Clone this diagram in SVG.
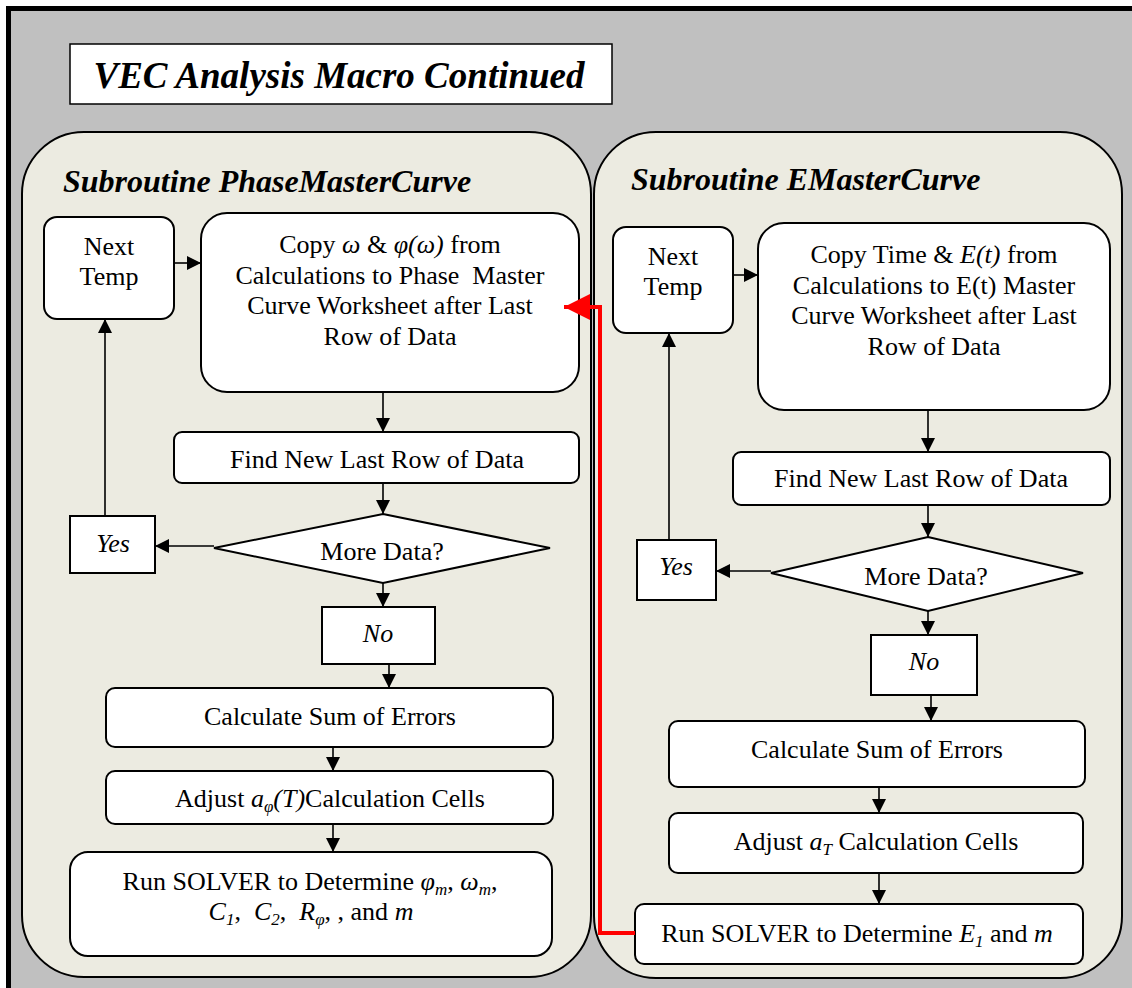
<svg xmlns="http://www.w3.org/2000/svg" width="1132" height="988" viewBox="0 0 1132 988">
  <defs>
    <marker id="ah" viewBox="0 0 14 14" refX="14" refY="7" markerWidth="14" markerHeight="14" markerUnits="userSpaceOnUse" orient="auto">
      <path d="M0,0 L14,7 L0,14 z" fill="#000"/>
    </marker>
    <marker id="ahRed" viewBox="0 0 26 26" refX="26" refY="13" markerWidth="26" markerHeight="26" markerUnits="userSpaceOnUse" orient="auto">
      <path d="M0,0 L26,13 L0,26 z" fill="#ff0000"/>
    </marker>
    <style>
      .panel { fill: #ecebe1; stroke: #000; stroke-width: 2; }
      .box { fill: #fff; stroke: #000; stroke-width: 2; }
      .t { font-family: "Liberation Serif", "Times New Roman", serif; font-size: 26px; fill: #000; text-anchor: middle; }
      .i { font-style: italic; }
      .sub { font-size: 17px; }
      .head { font-family: "Liberation Serif", "Times New Roman", serif; font-weight: bold; font-style: italic; fill: #000; }
      .conn { stroke: #000; stroke-width: 1.6; fill: none; }
      .red { stroke: #ff0000; stroke-width: 4; fill: none; }
    </style>
  </defs>

  <!-- page background and frame -->
  <rect x="0" y="0" width="1132" height="988" fill="#fff"/>
  <rect x="8.5" y="8.5" width="1140" height="1000" fill="#c0c0c0" stroke="#000" stroke-width="5"/>

  <!-- title -->
  <g id="title">
    <rect x="70" y="44" width="542" height="60" fill="#fff" stroke="#000" stroke-width="1.5"/>
    <text class="head" x="339" y="88" font-size="37" text-anchor="middle">VEC Analysis Macro Continued</text>
  </g>

  <!-- subroutine panels -->
  <g id="panel-phase">
    <rect class="panel" x="22" y="132" width="569" height="845" rx="62" ry="62"/>
    <text class="head" x="63" y="192" font-size="32">Subroutine PhaseMasterCurve</text>
  </g>
  <g id="panel-e">
    <rect class="panel" x="594" y="132" width="528" height="846" rx="62" ry="62"/>
    <text class="head" x="631" y="190" font-size="32">Subroutine EMasterCurve</text>
  </g>

  <!-- PhaseMasterCurve nodes -->
  <g id="p-next">
    <rect class="box" x="44" y="217" width="130" height="102" rx="13"/>
    <text class="t" x="109" y="255">Next</text>
    <text class="t" x="109" y="285">Temp</text>
  </g>
  <g id="p-copy">
    <rect class="box" x="201" y="213" width="378" height="179" rx="26"/>
    <text class="t" x="390" y="253">Copy <tspan class="i">ω</tspan> &amp; <tspan class="i">φ(ω)</tspan> from</text>
    <text class="t" x="390" y="283.5">Calculations to Phase&#160; Master</text>
    <text class="t" x="390" y="314">Curve Worksheet after Last</text>
    <text class="t" x="390" y="345">Row of Data</text>
  </g>
  <g id="p-find">
    <rect class="box" x="174" y="432" width="405" height="51" rx="8"/>
    <text class="t" x="377" y="468">Find New Last Row of Data</text>
  </g>
  <g id="p-more">
    <polygon class="box" points="383,514 550,548 383,583 214,548"/>
    <text class="t" x="382" y="560">More Data?</text>
  </g>
  <g id="p-yes">
    <rect class="box" x="70" y="516" width="85" height="57"/>
    <text class="t i" x="113" y="552">Yes</text>
  </g>
  <g id="p-no">
    <rect class="box" x="322" y="607" width="113" height="57"/>
    <text class="t i" x="378" y="642">No</text>
  </g>
  <g id="p-sum">
    <rect class="box" x="106" y="688" width="447" height="59" rx="9"/>
    <text class="t" x="330" y="725">Calculate Sum of Errors</text>
  </g>
  <g id="p-adjust">
    <rect class="box" x="106" y="771" width="447" height="53" rx="9"/>
    <text class="t" x="330" y="807">Adjust <tspan class="i">a</tspan><tspan class="sub i" dy="5">φ</tspan><tspan class="i" dy="-5">(T)</tspan>Calculation Cells</text>
  </g>
  <g id="p-solver">
    <rect class="box" x="70" y="852" width="482" height="104" rx="18"/>
    <text class="t" x="310" y="890">Run SOLVER to Determine <tspan class="i">φ</tspan><tspan class="sub i" dy="5">m</tspan><tspan dy="-5">, </tspan><tspan class="i">ω</tspan><tspan class="sub i" dy="5">m</tspan><tspan dy="-5">,</tspan></text>
    <text class="t" x="311" y="920"><tspan class="i">C</tspan><tspan class="sub i" dy="5">1</tspan><tspan dy="-5">,&#160; </tspan><tspan class="i">C</tspan><tspan class="sub i" dy="5">2</tspan><tspan dy="-5">,&#160; </tspan><tspan class="i">R</tspan><tspan class="sub i" dy="5">φ</tspan><tspan dy="-5">, , and </tspan><tspan class="i">m</tspan></text>
  </g>

  <!-- EMasterCurve nodes -->
  <g id="e-next">
    <rect class="box" x="613" y="227" width="120" height="106" rx="13"/>
    <text class="t" x="673" y="265">Next</text>
    <text class="t" x="673" y="295">Temp</text>
  </g>
  <g id="e-copy">
    <rect class="box" x="758" y="223" width="352" height="187" rx="26"/>
    <text class="t" x="934" y="263">Copy Time &amp; <tspan class="i">E(t)</tspan> from</text>
    <text class="t" x="934" y="293.5">Calculations to E(t) Master</text>
    <text class="t" x="934" y="324">Curve Worksheet after Last</text>
    <text class="t" x="934" y="355">Row of Data</text>
  </g>
  <g id="e-find">
    <rect class="box" x="733" y="452" width="377" height="53" rx="8"/>
    <text class="t" x="921" y="487">Find New Last Row of Data</text>
  </g>
  <g id="e-more">
    <polygon class="box" points="928,537 1083,573 928,611 771,573"/>
    <text class="t" x="926" y="585">More Data?</text>
  </g>
  <g id="e-yes">
    <rect class="box" x="637" y="540" width="79" height="60"/>
    <text class="t i" x="676" y="575">Yes</text>
  </g>
  <g id="e-no">
    <rect class="box" x="871" y="635" width="106" height="60"/>
    <text class="t i" x="924" y="670">No</text>
  </g>
  <g id="e-sum">
    <rect class="box" x="669" y="721" width="416" height="66" rx="9"/>
    <text class="t" x="877" y="758">Calculate Sum of Errors</text>
  </g>
  <g id="e-adjust">
    <rect class="box" x="669" y="813" width="414" height="60" rx="9"/>
    <text class="t" x="876" y="850">Adjust <tspan class="i">a</tspan><tspan class="sub i" dy="5">T</tspan><tspan dy="-5"> Calculation Cells</tspan></text>
  </g>
  <g id="e-solver">
    <rect class="box" x="635" y="904" width="448" height="60" rx="9"/>
    <text class="t" x="857" y="942">Run SOLVER to Determine <tspan class="i">E</tspan><tspan class="sub i" dy="5">1</tspan><tspan dy="-5"> and </tspan><tspan class="i">m</tspan></text>
  </g>

  <!-- connectors -->
  <g id="connectors">
    <!-- PhaseMasterCurve flow -->
    <line class="conn" x1="174" y1="263" x2="201" y2="263" marker-end="url(#ah)"/>
    <line class="conn" x1="383" y1="392" x2="383" y2="432" marker-end="url(#ah)"/>
    <line class="conn" x1="383" y1="483" x2="383" y2="514" marker-end="url(#ah)"/>
    <line class="conn" x1="214" y1="546" x2="155" y2="546" marker-end="url(#ah)"/>
    <line class="conn" x1="105" y1="516" x2="105" y2="319" marker-end="url(#ah)"/>
    <line class="conn" x1="383" y1="583" x2="383" y2="607" marker-end="url(#ah)"/>
    <line class="conn" x1="389" y1="664" x2="389" y2="688" marker-end="url(#ah)"/>
    <line class="conn" x1="333" y1="747" x2="333" y2="771" marker-end="url(#ah)"/>
    <line class="conn" x1="333" y1="824" x2="333" y2="852" marker-end="url(#ah)"/>

    <!-- EMasterCurve flow -->
    <line class="conn" x1="733" y1="275" x2="758" y2="275" marker-end="url(#ah)"/>
    <line class="conn" x1="928" y1="410" x2="928" y2="452" marker-end="url(#ah)"/>
    <line class="conn" x1="928" y1="505" x2="928" y2="537" marker-end="url(#ah)"/>
    <line class="conn" x1="771" y1="571" x2="716" y2="571" marker-end="url(#ah)"/>
    <line class="conn" x1="669" y1="540" x2="669" y2="333" marker-end="url(#ah)"/>
    <line class="conn" x1="928" y1="611" x2="928" y2="635" marker-end="url(#ah)"/>
    <line class="conn" x1="931" y1="695" x2="931" y2="721" marker-end="url(#ah)"/>
    <line class="conn" x1="879" y1="787" x2="879" y2="813" marker-end="url(#ah)"/>
    <line class="conn" x1="879" y1="873" x2="879" y2="904" marker-end="url(#ah)"/>

    <!-- return from EMasterCurve solver to PhaseMasterCurve copy step -->
    <polyline class="red" points="635,933 600,933 600,307 564,307" marker-end="url(#ahRed)"/>
  </g>
</svg>
